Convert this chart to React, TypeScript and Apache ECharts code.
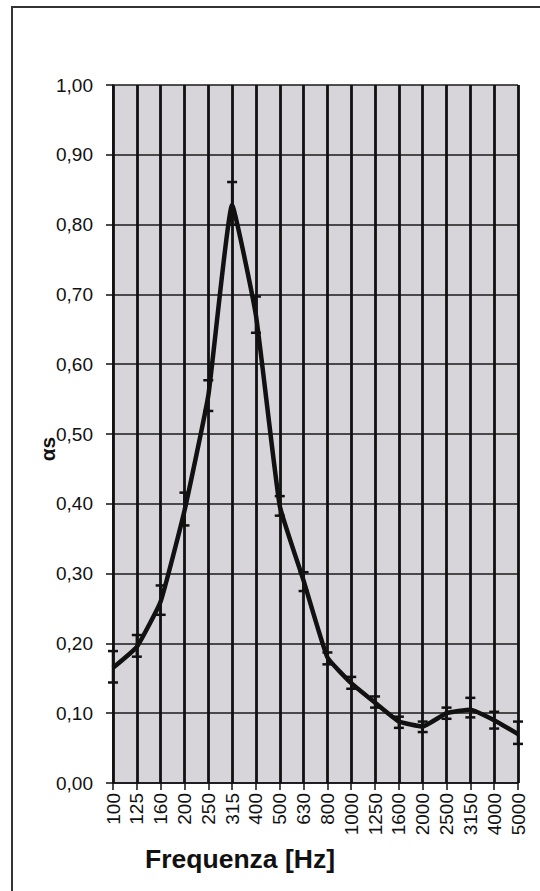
import React, { useEffect, useRef } from "react";
import * as echarts from "echarts";

const categories = ["100", "125", "160", "200", "250", "315", "400", "500", "630", "800", "1000", "1250", "1600", "2000", "2500", "3150", "4000", "5000"];
const alphaValues = [0.165, 0.195, 0.26, 0.39, 0.555, 0.828, 0.67, 0.397, 0.29, 0.18, 0.143, 0.115, 0.088, 0.081, 0.1, 0.105, 0.09, 0.07];
const errorHigh = [0.189, 0.212, 0.283, 0.416, 0.577, 0.861, 0.697, 0.411, 0.302, 0.187, 0.152, 0.124, 0.095, 0.088, 0.108, 0.122, 0.102, 0.088];
const errorLow = [0.144, 0.181, 0.241, 0.369, 0.533, 0.8, 0.645, 0.383, 0.275, 0.17, 0.135, 0.108, 0.079, 0.073, 0.092, 0.094, 0.078, 0.056];
const yTicks = { min: 0, max: 1, interval: 0.1 };
const xAxisTitle = "Frequenza [Hz]";
const yAxisTitle = "αs";

export default function App() {
  const ref = useRef<HTMLDivElement>(null);
  useEffect(() => {
    if (!ref.current) return;
    const chart = echarts.init(ref.current, null, { renderer: "svg" });
    const errData = categories.map((_, i) => [i, errorLow[i], errorHigh[i]]);
    chart.setOption({
      animation: false,
      backgroundColor: "#ffffff",
      grid: {
        left: 113,
        right: 22,
        top: 85,
        bottom: 108,
        show: true,
        backgroundColor: "#d8d5da",
        borderWidth: 0,
      },
      xAxis: {
        type: "category",
        data: categories,
        boundaryGap: false,
        axisLine: { show: true, lineStyle: { color: "#111", width: 1.5 } },
        axisTick: { show: true, length: 7, lineStyle: { color: "#111", width: 1.5 } },
        axisLabel: {
          rotate: 90,
          margin: 10,
          interval: 0,
          color: "#111",
          fontFamily: "Liberation Sans",
          fontSize: 19,
        },
        splitLine: { show: true, lineStyle: { color: "#111", width: 2.8 } },
      },
      yAxis: {
        type: "value",
        min: yTicks.min,
        max: yTicks.max,
        interval: yTicks.interval,
        axisLine: { show: true, lineStyle: { color: "#111", width: 1.5 } },
        axisTick: { show: true, length: 7, lineStyle: { color: "#111", width: 1.5 } },
        axisLabel: {
          margin: 20,
          color: "#111",
          fontFamily: "Liberation Sans",
          fontSize: 19,
          formatter: (v: number) => v.toFixed(2).replace(".", ","),
        },
        splitLine: { show: true, lineStyle: { color: "#1a1a1a", width: 1.5 } },
      },
      graphic: [
        {
          type: "rect",
          shape: { x: 12, y: 7, width: 560, height: 920 },
          style: { fill: "none", stroke: "#333", lineWidth: 2 },
          silent: true,
          z: 0,
        },
        {
          type: "text",
          x: 240,
          y: 859,
          style: {
            text: xAxisTitle,
            fontFamily: "Liberation Sans",
            fontWeight: "bold",
            fontSize: 26.5,
            fill: "#111",
            align: "center",
            verticalAlign: "middle",
          },
        },
        {
          type: "text",
          x: 47,
          y: 449,
          rotation: Math.PI / 2,
          style: {
            text: yAxisTitle,
            fontFamily: "Liberation Sans",
            fontWeight: "bold",
            fontSize: 21,
            fill: "#111",
            align: "center",
            verticalAlign: "middle",
          },
        },
      ],
      series: [
        {
          type: "line",
          data: alphaValues,
          smooth: 0.12,
          symbol: "none",
          lineStyle: { color: "#111", width: 4.5 },
          z: 3,
        },
        {
          type: "custom",
          data: errData,
          clip: false,
          z: 4,
          renderItem: (params: any, api: any) => {
            const idx = api.value(0);
            const lo = api.coord([idx, api.value(1)]);
            const hi = api.coord([idx, api.value(2)]);
            const hw = 5;
            const style = { stroke: "#111", lineWidth: 2.5 };
            return {
              type: "group",
              children: [
                { type: "line", shape: { x1: lo[0], y1: lo[1], x2: hi[0], y2: hi[1] }, style },
                { type: "line", shape: { x1: lo[0] - hw, y1: lo[1], x2: lo[0] + hw, y2: lo[1] }, style },
                { type: "line", shape: { x1: hi[0] - hw, y1: hi[1], x2: hi[0] + hw, y2: hi[1] }, style },
              ],
            };
          },
        },
      ],
    });
    return () => chart.dispose();
  }, []);
  return (
    <div
      ref={ref}
      style={{ position: "absolute", left: 0, top: 0, width: 540, height: 891 }}
    />
  );
}
